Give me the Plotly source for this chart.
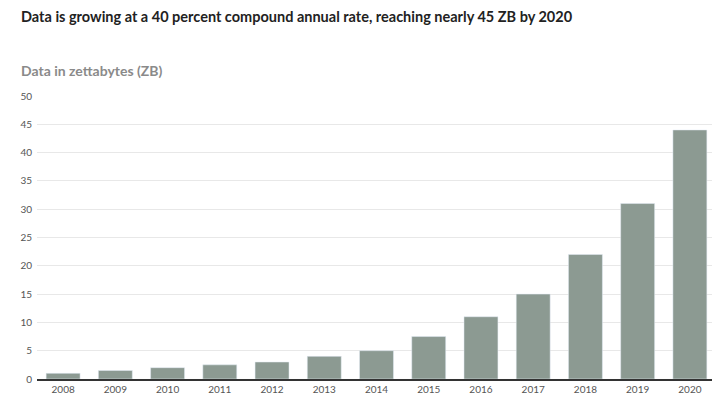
import plotly.graph_objects as go

years = ["2008", "2009", "2010", "2011", "2012", "2013", "2014",
         "2015", "2016", "2017", "2018", "2019", "2020"]
zettabytes = [1, 1.5, 2, 2.5, 3, 4, 5, 7.5, 11, 15, 22, 31, 44]

fig = go.Figure()
fig.add_trace(go.Bar(x=years, y=zettabytes, marker_color="#8c9a92", width=0.65))

fig.update_layout(
    width=720, height=415,
    margin=dict(l=22, r=12, t=88, b=44),
    plot_bgcolor="white", paper_bgcolor="white",
    font=dict(family="Lato", color="#555555", size=10),
    showlegend=False, bargap=0.35,
    annotations=[
        dict(text="<b>Data is growing at a 40 percent compound annual rate, reaching nearly 45 ZB by 2020</b>",
             x=0, y=1, xref="paper", yref="paper", xanchor="left", yanchor="top",
             font=dict(size=14.5, color="#222222"), showarrow=False, xshift=-18, yshift=90),
        dict(text="<b>Data in zettabytes (ZB)</b>",
             x=0, y=1, xref="paper", yref="paper", xanchor="left", yanchor="top",
             font=dict(size=14, color="#8a8a8a"), showarrow=False, xshift=-18, yshift=36),
    ],
)
fig.update_yaxes(range=[0, 50], dtick=5, gridcolor="#e8e8e8", zeroline=False,
                 tickfont=dict(size=10, color="#555555"), ticklabelstandoff=4)
fig.update_xaxes(showline=True, linecolor="#333333", linewidth=2,
                 tickfont=dict(size=10, color="#555555"))

fig.write_html("out.html")
